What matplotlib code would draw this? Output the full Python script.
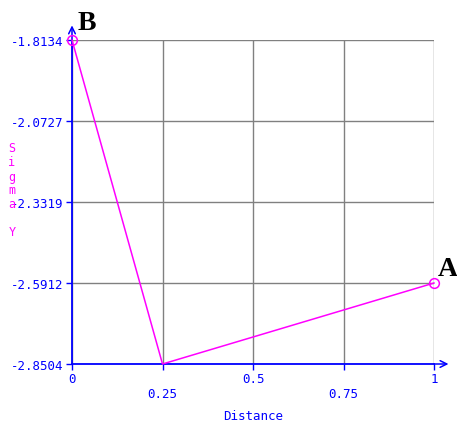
import matplotlib
matplotlib.use("Agg")
import matplotlib.pyplot as plt

distance = [0.0, 0.25, 1.0]
sigma_y = [-1.8134, -2.8504, -2.5912]
marker_idx = [0, 2]
x_ticks = [0, 0.25, 0.5, 0.75, 1]
x_tick_labels = ["0", "\n0.25", "0.5", "\n0.75", "1"]
y_ticks = [-2.8504, -2.5912, -2.3319, -2.0727, -1.8134]
y_tick_labels = ["-2.8504", "-2.5912", "-2.3319", "-2.0727", "-1.8134"]

W, H = 457, 427
fig = plt.figure(figsize=(W/100, H/100), dpi=100)
ax = fig.add_axes([72/W, 1-365/H, (434-72)/W, (365-41)/H])

blue = "#0000ff"
mag = "#ff00ff"
mono = "DejaVu Sans Mono"

ax.plot(distance, sigma_y, color=mag, lw=1.1, clip_on=False, zorder=5)
ax.plot([distance[i] for i in marker_idx], [sigma_y[i] for i in marker_idx],
        linestyle="none", marker="o", ms=7, mfc="none", mec=mag, mew=1.1,
        clip_on=False, zorder=6)

ax.set_xlim(0, 1)
ax.set_ylim(-2.8504, -1.8134)
ax.set_xticks(x_ticks)
ax.set_xticklabels(x_tick_labels, fontfamily=mono, fontsize=9, color=blue)
ax.set_yticks(y_ticks)
ax.set_yticklabels(y_tick_labels, fontfamily=mono, fontsize=9, color=blue)
ax.tick_params(axis="both", colors=blue, length=4, width=1, pad=2)
ax.grid(True, color="#808080", lw=1.0)
ax.set_axisbelow(True)
for s in ["top", "right"]:
    ax.spines[s].set_visible(False)
for s in ["left", "bottom"]:
    ax.spines[s].set_color(blue)
    ax.spines[s].set_linewidth(1.3)
    ax.spines[s].set_zorder(4)

# axis arrows
ax.annotate("", xy=(0, 1.045), xytext=(0, 1.0), xycoords="axes fraction",
            arrowprops=dict(arrowstyle="->", color=blue, lw=1.1,
                            shrinkA=0, shrinkB=0, mutation_scale=12))
ax.annotate("", xy=(1.04, 0), xytext=(1.0, 0), xycoords="axes fraction",
            arrowprops=dict(arrowstyle="->", color=blue, lw=1.1,
                            shrinkA=0, shrinkB=0, mutation_scale=12))

ax.set_xlabel("Distance", fontfamily=mono, fontsize=9, color=blue, labelpad=6)

fig.text(12/W, 1-191/H, "S\ni\ng\nm\na\n\nY", fontfamily=mono, fontsize=8.5,
         color=mag, ha="center", va="center", linespacing=1.1)

fig.text(87/W, 1-23/H, "B", fontfamily="Liberation Serif", fontweight="bold",
         fontsize=20, color="black", ha="center", va="center")
fig.text(448/W, 1-270/H, "A", fontfamily="Liberation Serif", fontweight="bold",
         fontsize=20, color="black", ha="center", va="center")

fig.savefig("out.png", dpi=100, facecolor="white")
